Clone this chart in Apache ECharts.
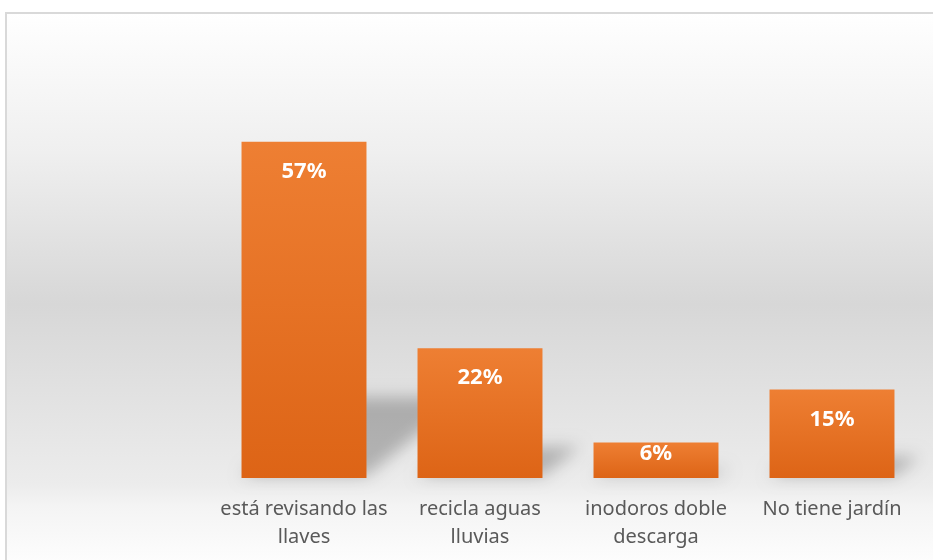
<!DOCTYPE html>
<html>
<head>
<meta charset="utf-8">
<script src="https://cdn.jsdelivr.net/npm/echarts@6/dist/echarts.min.js"></script>
<style>
  html, body { margin: 0; padding: 0; background: #fff; }
  #chart { width: 933px; height: 560px; }
</style>
</head>
<body>
<div id="chart"></div>
<script>
var categories = ['está revisando las\nllaves', 'recicla aguas\nlluvias', 'inodoros doble\ndescarga', 'No tiene jardín'];
var values = [57, 22, 6, 15];

var chart = echarts.init(document.getElementById('chart'));

// perspective shadow behind each bar (drawn off-screen, only its blurred shadow is shifted back in)
function renderShadow(params, api) {
	var idx = api.value(0);
	var top = api.coord([idx, api.value(1)]);
	var base = api.coord([idx, 0]);
	var bw = api.size([1, 0])[0] * 0.71;
	var h = base[1] - top[1];
	var dy = h * 0.24;
	var dx = dy * 1.2;
	var L = base[0] - bw / 2, R = base[0] + bw / 2, B = base[1];
	var off = 3000;
	return {
		type : 'polygon',
		shape : {
			points : [ [ L + off, B - 2 ], [ R + off, B - 2 ], [ R + dx + off, B - dy ], [ L + dx + off, B - dy ] ]
		},
		style : {
			fill : '#000',
			shadowColor : 'rgba(0,0,0,0.24)',
			shadowBlur : 16,
			shadowOffsetX : -off,
			shadowOffsetY : 0
		}
	};
}

var option = {
	animation : false,
	graphic : [ {
		type : 'rect',
		z : -10,
		shape : { x : 6, y : 13, width : 940, height : 560 },
		style : {
			stroke : '#d9d9d9',
			lineWidth : 2,
			fill : {
				type : 'linear', x : 0, y : 0, x2 : 0, y2 : 1,
				colorStops : [
					{ offset : 0, color : '#ffffff' },
					{ offset : 0.25, color : '#efefef' },
					{ offset : 0.52, color : '#d7d7d7' },
					{ offset : 0.84, color : '#ececec' },
					{ offset : 0.88, color : '#f4f4f4' },
					{ offset : 1, color : '#ffffff' }
				]
			}
		}
	} ],
	grid : {
		left : 216,
		right : 13,
		top : 124,
		bottom : 82
	},
	xAxis : {
		type : 'category',
		data : categories,
		axisLine : { show : false },
		axisTick : { show : false },
		axisLabel : {
			color : '#595959',
			fontFamily : 'Noto Sans',
			fontSize : 20,
			lineHeight : 28,
			margin : 17,
			interval : 0
		}
	},
	yAxis : {
		type : 'value',
		min : 0,
		max : 60,
		show : false,
		splitLine : { show : false }
	},
	series : [ {
		type : 'custom',
		z : 1,
		renderItem : renderShadow,
		data : values.map(function(v, i) { return [ i, v ]; })
	}, {
		type : 'bar',
		z : 5,
		barCategoryGap : '29%',
		data : values.map(function(v, i) {
			var item = { value : v };
			if (v < 10) item.label = { distance : 0 };
			return item;
		}),
		itemStyle : {
			color : {
				type : 'linear', x : 0, y : 0, x2 : 0, y2 : 1,
				colorStops : [
					{ offset : 0, color : '#ee7f33' },
					{ offset : 1, color : '#dd6416' }
				]
			}
		},
		label : {
			show : true,
			position : 'insideTop',
			distance : 19,
			color : '#ffffff',
			fontFamily : 'Noto Sans',
			fontWeight : 'bold',
			fontSize : 22,
			formatter : '{c}%'
		}
	} ]
};

chart.setOption(option);
</script>
</body>
</html>
